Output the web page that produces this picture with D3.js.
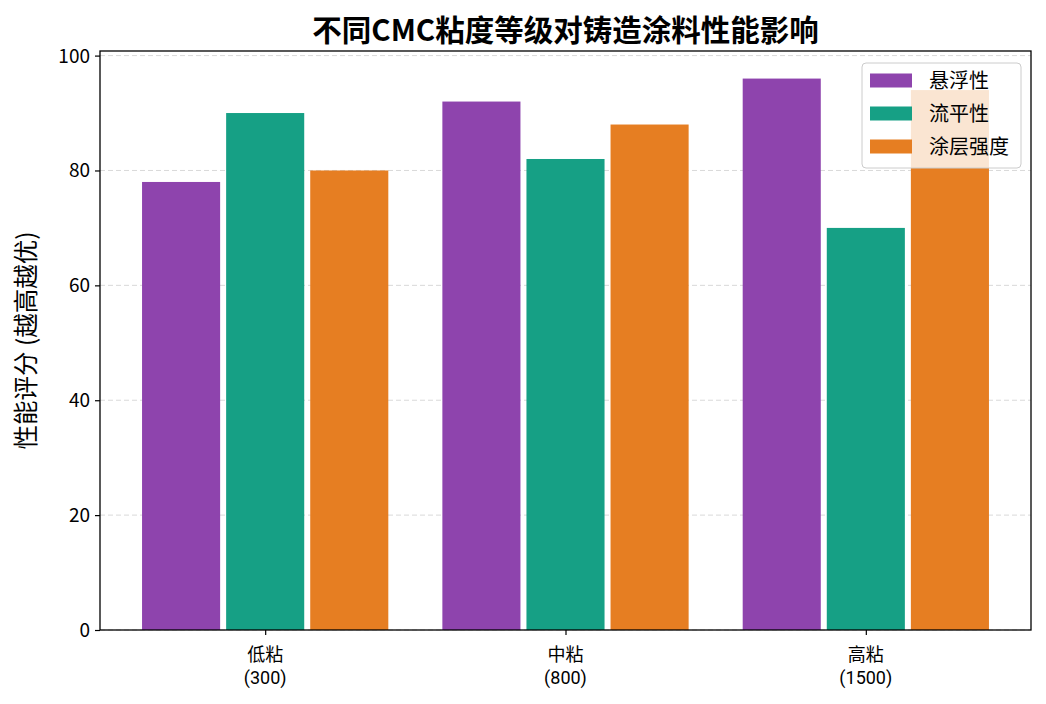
<!DOCTYPE html>
<html><head><meta charset="utf-8">
<script src="https://cdn.jsdelivr.net/npm/d3@7"></script>
<style>body{margin:0;background:#fff;} text{font-family:"Noto Sans CJK SC","Noto Sans",sans-serif;}</style>
</head><body>
<svg id="c" width="1046" height="704"></svg>
<script>
const categories = ["低粘\n(300)", "中粘\n(800)", "高粘\n(1500)"];
const seriesNames = ["悬浮性", "流平性", "涂层强度"];
const suspension = [78, 92, 96];
const leveling = [90, 82, 70];
const strength = [80, 88, 94];
const colors = ["#8e44ad", "#16a085", "#e67e22"];
const yTicks = [0, 20, 40, 60, 80, 100];
const title = "不同CMC粘度等级对铸造涂料性能影响";
const yLabel = "性能评分 (越高越优)";

const series = [suspension, leveling, strength];
const svg = d3.select("#c");
const L = 100, R = 1031, T = 51, B = 630;
const x = d3.scaleLinear().domain([-0.55, 2.55]).range([L, R]);
const y = d3.scaleLinear().domain([0, 100.8]).range([B, T]);
const bw = 0.26, off = [-0.28, 0, 0.28];

// grid
svg.append("g").selectAll("line").data(yTicks).join("line")
  .attr("x1", L).attr("x2", R).attr("y1", d => y(d)).attr("y2", d => y(d))
  .attr("stroke", "#d9d9d9").attr("stroke-dasharray", "5,3").attr("stroke-width", 1);

// bars
series.forEach((vals, si) => {
  svg.append("g").selectAll("rect").data(vals).join("rect")
    .attr("x", (d, i) => x(i + off[si] - bw / 2))
    .attr("width", x(bw) - x(0))
    .attr("y", d => y(d))
    .attr("height", d => y(0) - y(d))
    .attr("fill", colors[si]);
});

// axes
const yAxis = d3.axisLeft(y).tickValues(yTicks).tickSize(5).tickPadding(5);
const gy = svg.append("g").attr("transform", `translate(${L},0)`).call(yAxis);
gy.select(".domain").remove();
gy.selectAll("text").attr("font-size", 19).attr("fill", "#000").attr("dy", "0.34em");
gy.selectAll("line").attr("stroke", "#000").attr("stroke-width", 1.2);

const xAxis = d3.axisBottom(x).tickValues([0, 1, 2]).tickSize(5).tickFormat("");
const gx = svg.append("g").attr("transform", `translate(0,${B})`).call(xAxis);
gx.select(".domain").remove();
gx.selectAll("line").attr("stroke", "#000").attr("stroke-width", 1.2);
categories.forEach((c, i) => {
  c.split("\n").forEach((ln, k) => {
    svg.append("text").attr("x", x(i)).attr("y", B + 31 + k * 23)
      .attr("text-anchor", "middle").attr("font-size", 18).attr("fill", "#000")
      .style("font-family", k ? "Roboto, 'Liberation Sans', sans-serif" : null)
      .text(ln);
  });
});

// frame
svg.append("rect").attr("x", L).attr("y", T).attr("width", R - L).attr("height", B - T)
  .attr("fill", "none").attr("stroke", "#000").attr("stroke-width", 1.3);

// title & labels
svg.append("text").attr("x", (L + R) / 2).attr("y", 41).attr("text-anchor", "middle")
  .attr("font-size", 29.5).attr("font-weight", "bold").text(title);
svg.append("text").attr("transform", `translate(35,${(T + B) / 2}) rotate(-90)`)
  .attr("text-anchor", "middle").attr("font-size", 24.5).text(yLabel);

// legend
const lg = svg.append("g");
lg.append("rect").attr("x", 862).attr("y", 63).attr("width", 159).attr("height", 105)
  .attr("rx", 4).attr("fill", "#fff").attr("fill-opacity", 0.8)
  .attr("stroke", "#ccc").attr("stroke-width", 1);
seriesNames.forEach((n, i) => {
  const cy = 80.5 + i * 33;
  lg.append("rect").attr("x", 870).attr("y", cy - 7).attr("width", 42).attr("height", 14).attr("fill", colors[i]);
  lg.append("text").attr("x", 929).attr("y", cy + 7).attr("font-size", 20).text(n);
});
</script>
</body></html>
